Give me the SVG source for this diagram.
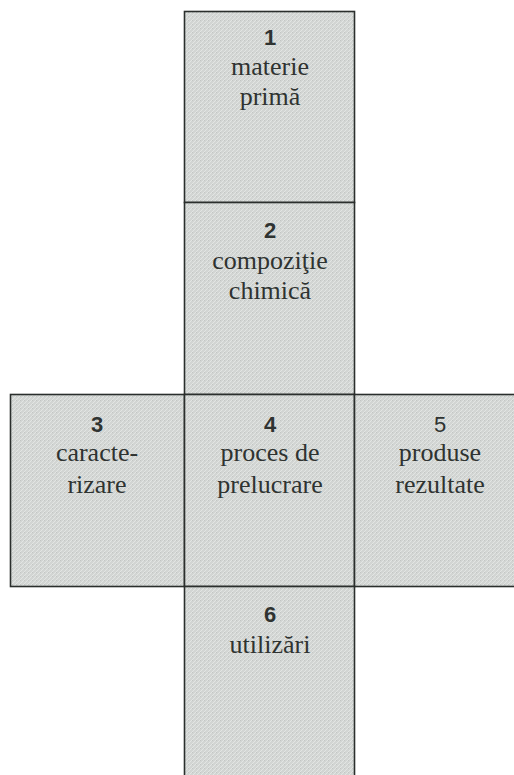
<svg xmlns="http://www.w3.org/2000/svg" width="514" height="775" viewBox="0 0 514 775">
<style>
.box{fill:url(#tex);stroke:#2b2f2d;stroke-width:1.6}
.num{font-family:"Liberation Sans",Arial,sans-serif;font-weight:bold;font-size:22px;fill:#2f3331;text-anchor:middle}
.num5{font-family:"Liberation Sans",Arial,sans-serif;font-size:22px;fill:#2f3331;text-anchor:middle}
.lbl{font-family:"Liberation Serif","Times New Roman",serif;font-size:26px;fill:#2f3331;text-anchor:middle}
</style>
<defs>
<pattern id="tex" patternUnits="userSpaceOnUse" width="4" height="4">
<rect width="4" height="4" fill="#d2d5d3"/>
<path d="M-1,5 L5,-1" stroke="#e4e6e4" stroke-width="0.9"/>
<rect x="0" y="0" width="1" height="1" fill="#c3c6c4"/>
</pattern>
</defs>
<rect width="514" height="775" fill="#ffffff"/>
<g id="node1"><rect class="box" x="184.5" y="11.5" width="170" height="191"/>
<text class="num" x="270" y="45">1</text>
<text class="lbl" x="270" y="75">materie</text>
<text class="lbl" x="270" y="105">primă</text></g>
<g id="node2"><rect class="box" x="184.5" y="202.5" width="170" height="192"/>
<text class="num" x="270" y="238">2</text>
<text class="lbl" x="270" y="269">compoziţie</text>
<text class="lbl" x="270" y="299">chimică</text></g>
<g id="node3"><rect class="box" x="10.5" y="394.5" width="174" height="192"/>
<text class="num" x="97" y="432">3</text>
<text class="lbl" x="97" y="461">caracte-</text>
<text class="lbl" x="97" y="493">rizare</text></g>
<g id="node4"><rect class="box" x="184.5" y="394.5" width="170" height="192"/>
<text class="num" x="270" y="432">4</text>
<text class="lbl" x="270" y="461">proces de</text>
<text class="lbl" x="270" y="493">prelucrare</text></g>
<g id="node5"><rect class="box" x="354.5" y="394.5" width="164" height="192"/>
<text class="num5" x="440" y="432">5</text>
<text class="lbl" x="440" y="461">produse</text>
<text class="lbl" x="440" y="493">rezultate</text></g>
<g id="node6"><rect class="box" x="184.5" y="586.5" width="170" height="195"/>
<text class="num" x="270" y="622">6</text>
<text class="lbl" x="270" y="653">utilizări</text></g>
<g id="connectors"></g>
</svg>
